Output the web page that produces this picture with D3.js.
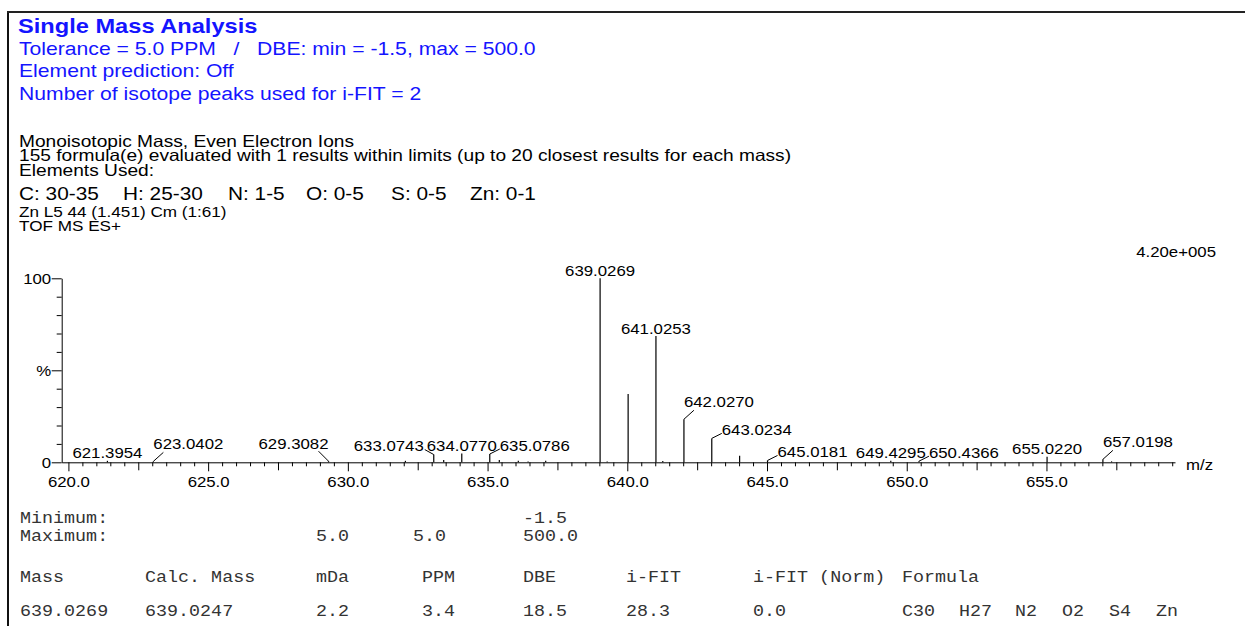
<!DOCTYPE html>
<html>
<head>
<meta charset="utf-8">
<script src="https://cdn.jsdelivr.net/npm/d3@7"></script>
<style>
  html, body { margin: 0; padding: 0; background: #fff; }
  svg text { white-space: pre; }
</style>
</head>
<body>
<svg id="chart" width="1245" height="626"></svg>
<script>
// ---- data ----
const peakMz = [621.3954, 623.0402, 629.3082, 632.06, 633.0743, 633.43, 634.0770, 635.0786,
  635.42, 636.10, 636.45, 637.08, 639.0269, 639.28, 640.03, 641.0253, 641.27, 642.0270,
  643.0234, 644.02, 645.0181, 649.4295, 650.4366, 655.0220, 657.0198, 657.33];
const peakPct = [0.8, 0.5, 0.6, 0.8, 4.2, 1.3, 4.8, 4.5,
  1.2, 0.8, 0.5, 0.9, 100, 0.5, 37.1, 68.6, 0.7, 23.4,
  13.0, 3.5, 1.0, 0.8, 0.6, 3.0, 1.6, 0.5];
// labelled peaks and how the label sits (c = centred, r/l = beside, R/L = raised with leader)
const labelMz = [621.3954, 623.0402, 629.3082, 633.0743, 634.0770, 635.0786, 639.0269, 641.0253,
  642.0270, 643.0234, 645.0181, 649.4295, 650.4366, 655.0220, 657.0198];
const labelMode = ["c", "R", "L", "l", "c", "r", "c", "c", "R", "r", "r", "c", "r", "c", "R"];
const xDomain = [619.76, 659.6];
const xLabelTicks = [620, 625, 630, 635, 640, 645, 650, 655];
const yTicks = [0, 10, 20, 30, 40, 50, 60, 70, 80, 90, 100];
const intensityMax = "4.20e+005";

const headerBlue = ["Tolerance = 5.0 PPM   /   DBE: min = -1.5, max = 500.0",
  "Element prediction: Off", "Number of isotope peaks used for i-FIT = 2"];
const headerInfo = ["Monoisotopic Mass, Even Electron Ions",
  "155 formula(e) evaluated with 1 results within limits (up to 20 closest results for each mass)",
  "Elements Used:"];
const elementRanges = ["C: 30-35", "H: 25-30", "N: 1-5", "O: 0-5", "S: 0-5", "Zn: 0-1"];
const scanInfo = ["Zn L5 44 (1.451) Cm (1:61)", "TOF MS ES+"];

const limitsMin = ["Minimum:", "", "", "", "-1.5"];
const limitsMax = ["Maximum:", "", "5.0", "5.0", "500.0"];
const tableHead = ["Mass", "Calc. Mass", "mDa", "PPM", "DBE", "i-FIT", "i-FIT (Norm)", "Formula"];
const tableRow = ["639.0269", "639.0247", "2.2", "3.4", "18.5", "28.3", "0.0"];
const formula = ["C30", "H27", "N2", "O2", "S4", "Zn"];

// ---- drawing ----
const SX = 1.12; // text in the original print is slightly wide
const svg = d3.select("#chart");
const sans = "'Liberation Sans', Arial, sans-serif";
const mono = "'Liberation Mono', 'Courier New', monospace";

function txt(sel, x, y, s, size, opts = {}) {
  return sel.append("text")
    .attr("transform", `translate(${x},${y}) scale(${opts.sx || SX},1)`)
    .attr("font-family", opts.family || sans)
    .attr("font-size", size)
    .attr("font-weight", opts.weight || "normal")
    .attr("text-anchor", opts.anchor || "start")
    .attr("fill", opts.fill || "#000")
    .text(s);
}

// frame
svg.append("line").attr("x1", 8).attr("x2", 8).attr("y1", 11).attr("y2", 626)
  .attr("stroke", "#111").attr("stroke-width", 2);
svg.append("line").attr("x1", 7).attr("x2", 1245).attr("y1", 12).attr("y2", 12)
  .attr("stroke", "#222").attr("stroke-width", 2);

// header
const blue = "#1414ff";
txt(svg, 18, 33, "Single Mass Analysis", 21.1, { weight: "bold", fill: blue });
headerBlue.forEach((s, i) => txt(svg, 19, 55 + i * 22.3, s, 18.9, { fill: blue }));
headerInfo.forEach((s, i) => txt(svg, 19, [146.5, 160.5, 176][i], s, 16.3, { sx: 1.175 }));
const elemX = [19, 123, 228, 306, 391, 470];
elementRanges.forEach((s, i) => txt(svg, elemX[i], 200, s, 18.6));
scanInfo.forEach((s, i) => txt(svg, 19, 216.5 + i * 14.5, s, 15.3));

// spectrum
const x = d3.scaleLinear().domain(xDomain).range([61.7, 1175]);
const y = d3.scaleLinear().domain([0, 100]).range([462.3, 278.3]);

txt(svg, 1216, 257, intensityMax, 15, { anchor: "end" });
txt(svg, 1186, 470, "m/z", 15);

// y axis
const yAxis = svg.append("g").attr("transform", `translate(${x.range()[0]},0)`)
  .call(d3.axisLeft(y).tickValues(yTicks).tickSizeOuter(0)
    .tickFormat(d => d === 100 ? "100" : d === 50 ? "%" : d === 0 ? "0" : ""));
yAxis.selectAll(".tick line").attr("x2", d => d % 50 === 0 ? -10 : -5);
yAxis.selectAll(".tick text")
  .attr("font-family", sans).attr("font-size", 15).attr("fill", "#000")
  .attr("x", -10.5 / SX).attr("dy", "0.35em")
  .attr("transform", `scale(${SX},1)`);

// x axis
const halfTicks = d3.range(620, 659.6, 0.5);
const xAxis = svg.append("g").attr("transform", `translate(0,${y(0)})`)
  .call(d3.axisBottom(x).tickValues(halfTicks).tickSizeOuter(0)
    .tickFormat(d => xLabelTicks.includes(d) ? d.toFixed(1) : ""));
xAxis.selectAll(".tick line").attr("y2", d => d % 5 === 0 ? 9 : d % 2.5 === 0 ? 8 : 4);
xAxis.selectAll(".tick text")
  .attr("font-family", sans).attr("font-size", 15).attr("fill", "#000")
  .attr("y", 25).attr("dy", 0)
  .attr("transform", `scale(${SX},1)`);
svg.selectAll(".domain").attr("stroke", "#000");
svg.selectAll(".tick line").attr("stroke", "#000");

// peaks
const peaks = peakMz.map((m, i) => ({ m, p: peakPct[i] }));
svg.append("g").selectAll("line").data(peaks).join("line")
  .attr("x1", d => x(d.m)).attr("x2", d => x(d.m))
  .attr("y1", y(0)).attr("y2", d => y(d.p))
  .attr("stroke", "#000").attr("stroke-width", 1.2);

// peak labels
const lab = svg.append("g");
labelMz.forEach((m, i) => {
  const p = peakPct[peakMz.indexOf(m)];
  const px = x(m), top = y(p), mode = labelMode[i], s = m.toFixed(4);
  let tx = px, base = top - 2.5, anchor = "middle", lead = null;
  if (mode === "r") { tx = px + 10; base = top - 3; anchor = "start"; lead = [px + 10, base - 2]; }
  if (mode === "l") { tx = px - 10; base = top - 4; anchor = "end"; lead = [px - 9, base - 1]; }
  if (mode === "R") { tx = px; base = top - 12; anchor = "start"; lead = [px + 10, base + 3]; }
  if (mode === "L") { tx = px; base = top - 12; anchor = "end"; lead = [px - 10, base + 2]; }
  if (lead) {
    lab.append("line").attr("x1", px).attr("y1", top).attr("x2", lead[0]).attr("y2", lead[1])
      .attr("stroke", "#000").attr("stroke-width", 1);
  }
  txt(lab, tx, base, s, 15, { anchor });
});

// results table
const tcol = [20, 145, 316, 422, 523, 626, 753, 902];
const tfill = "#333";
const tsize = 16.4;
limitsMin.forEach((s, i) => s && txt(svg, tcol[i], 523, s, tsize, { family: mono, fill: tfill }));
limitsMax.forEach((s, i) => s && txt(svg, i === 3 ? 413 : tcol[i], 541, s, tsize, { family: mono, fill: tfill }));
tableHead.forEach((s, i) => txt(svg, tcol[i], 582, s, tsize, { family: mono, fill: tfill }));
tableRow.forEach((s, i) => txt(svg, tcol[i], 616, s, tsize, { family: mono, fill: tfill }));
const fX = [902, 959, 1015, 1062, 1109, 1156];
formula.forEach((s, i) => txt(svg, fX[i], 616, s, tsize, { family: mono, fill: tfill }));
</script>
</body>
</html>
